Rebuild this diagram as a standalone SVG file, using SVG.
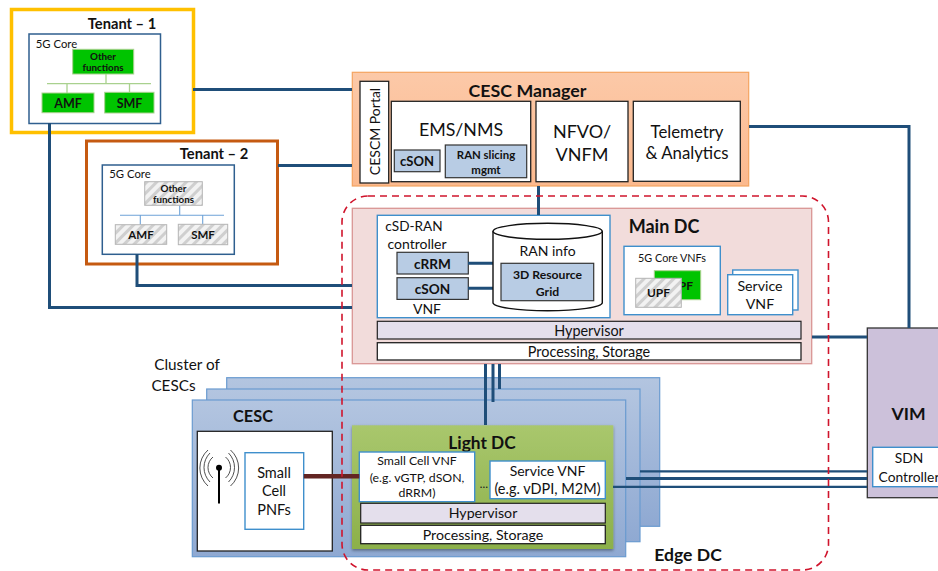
<svg xmlns="http://www.w3.org/2000/svg" width="938" height="571" viewBox="0 0 938 571">
<style>
text{font-family:"Lato","Liberation Sans",sans-serif;fill:#111;text-anchor:middle}
.b{font-weight:700}
.w{fill:#fff;stroke:#222;stroke-width:1.3}
.bl{fill:#fff;stroke:#3f8fcc;stroke-width:1.4}
.core{fill:#fff;stroke:#2f5f8f;stroke-width:1.5}
.g{fill:#00c400;stroke:#a9d18e;stroke-width:1}
.h{fill:url(#hatch);stroke:#b5b5b5;stroke-width:1}
.s{fill:#b8cce4;stroke:#333;stroke-width:1.2}
.hv{fill:#e4dfec;stroke:#222;stroke-width:1.2}
.cn{fill:none;stroke:#1f4e79;stroke-width:3}
.cesc{fill:url(#blue);stroke:#6a9bd0;stroke-width:1.2}
</style>
<defs>
<pattern id="hatch" width="7" height="7" patternUnits="userSpaceOnUse" patternTransform="rotate(45)">
<rect width="7" height="7" fill="#f2f2f2"/><rect width="3" height="7" fill="#cfcfcf"/>
</pattern>
<linearGradient id="blue" x1="0" y1="0" x2="0" y2="1"><stop offset="0" stop-color="#b3c5e0"/><stop offset="1" stop-color="#8fa9d2"/></linearGradient>
<linearGradient id="green" x1="0" y1="0" x2="0" y2="1"><stop offset="0" stop-color="#a9c76d"/><stop offset="1" stop-color="#8cb04a"/></linearGradient>
<linearGradient id="orange" x1="0" y1="0" x2="0" y2="1"><stop offset="0" stop-color="#fcc9a8"/><stop offset="1" stop-color="#fbb98e"/></linearGradient>
<filter id="shadow" x="-5%" y="-5%" width="110%" height="110%"><feDropShadow dx="0" dy="1.5" stdDeviation="1.5" flood-color="#000" flood-opacity="0.4"/></filter>
</defs>

<g id="tenant1">
<rect x="11.5" y="9.5" width="182" height="123" fill="#fff" stroke="#ffc000" stroke-width="3.5"/>
<text class="b" x="122" y="28.5" font-size="14.7">Tenant – 1</text>
<rect class="core" x="29" y="34" width="131.5" height="89.5"/>
<text x="56.5" y="47.5" font-size="11.3">5G Core</text>
<path fill="none" stroke="#a9d18e" stroke-width="1.3" d="M47 83.7H151M106 74V83.7M67 83.7V93M129.5 83.7V92"/>
<rect class="g" x="72.7" y="49.3" width="61" height="24.7"/>
<text class="b" x="103" y="59.5" font-size="9.8">Other</text>
<text class="b" x="103" y="71" font-size="9.8">functions</text>
<rect class="g" x="42" y="93" width="52" height="19.7"/>
<text class="b" x="68" y="108" font-size="12.5">AMF</text>
<rect class="g" x="104.7" y="92.3" width="49.3" height="20.7"/>
<text class="b" x="129.5" y="108" font-size="12.5">SMF</text>
</g>

<g id="tenant2">
<rect x="86.5" y="141" width="191" height="123" fill="#fff" stroke="#c55a11" stroke-width="3"/>
<text class="b" x="214" y="158.5" font-size="14.7">Tenant – 2</text>
<rect class="core" x="102.3" y="165" width="132" height="89.3"/>
<text x="130" y="177.5" font-size="11.3">5G Core</text>
<path fill="none" stroke="#6fa3d8" stroke-width="1.1" d="M120 215.3H224M179.7 205.3V215.3M140.3 215.3V224.7M202.7 215.3V224.3"/>
<rect class="h" x="144.7" y="181.7" width="57.6" height="23.6"/>
<text class="b" x="173.5" y="191.5" font-size="9.8">Other</text>
<text class="b" x="173.5" y="203" font-size="9.8">functions</text>
<rect class="h" x="115.3" y="224.7" width="51.4" height="19.6"/>
<text class="b" x="141" y="239" font-size="11.5">AMF</text>
<rect class="h" x="178.3" y="224.3" width="49.4" height="20.4"/>
<text class="b" x="203" y="239" font-size="11.5">SMF</text>
</g>

<g id="cesc-manager">
<rect x="352.3" y="72.3" width="396.4" height="113.7" fill="url(#orange)" stroke="#f4a460" stroke-width="1.2"/>
<text class="b" x="527.5" y="97" font-size="17.8">CESC Manager</text>
<rect class="w" x="360" y="81.3" width="28.7" height="101.7"/>
<text transform="translate(379.5 131.5) rotate(-90)" font-size="14">CESCM Portal</text>
<rect class="w" x="391.3" y="101.3" width="139.4" height="80.4"/>
<text x="461" y="136" font-size="17.8">EMS/NMS</text>
<rect class="s" x="394.3" y="150" width="45.7" height="21.7"/>
<text class="b" x="417" y="166" font-size="13">cSON</text>
<rect class="s" x="445.3" y="145" width="81.4" height="32.7"/>
<text class="b" x="486" y="158.5" font-size="11.4">RAN slicing</text>
<text class="b" x="486" y="174" font-size="11.4">mgmt</text>
<rect class="w" x="536" y="101.3" width="92" height="80.4"/>
<text x="582" y="138" font-size="18">NFVO/</text>
<text x="582" y="161" font-size="18">VNFM</text>
<rect class="w" x="633.3" y="101.3" width="107" height="80"/>
<text x="687" y="138" font-size="16.8">Telemetry</text>
<text x="687" y="158.5" font-size="16.8">&amp; Analytics</text>
</g>

<g id="main-dc">
<rect x="352.3" y="208.3" width="459.4" height="155.4" fill="#f2dcdb" stroke="#d99694" stroke-width="1.3"/>
<text class="b" x="664" y="232.5" font-size="18">Main DC</text>
<rect class="bl" x="377.3" y="215.3" width="232.7" height="102.4"/>
<text x="414" y="231" font-size="13.6">cSD-RAN</text>
<text x="417" y="249" font-size="14">controller</text>
<rect class="s" x="397" y="252.3" width="71.3" height="21.7"/>
<text class="b" x="432.5" y="269" font-size="13.6">cRRM</text>
<rect class="s" x="397" y="277.7" width="71.3" height="21.7"/>
<text class="b" x="432.5" y="294" font-size="13.6">cSON</text>
<text x="427" y="314" font-size="14">VNF</text>
<path class="cn" d="M468 263.3H493M468 288.3H493"/>
<path fill="#fff" stroke="#111" stroke-width="1.4" d="M493 231.3A54.6 8 0 0 1 602.3 231.3V302.7A54.6 8 0 0 1 493 302.7Z"/>
<path fill="none" stroke="#111" stroke-width="1.4" d="M493 231.3A54.6 8 0 0 0 602.3 231.3"/>
<text x="547.5" y="256" font-size="14">RAN info</text>
<rect class="s" x="501" y="263.3" width="92.7" height="37.4"/>
<text class="b" x="547.5" y="278.5" font-size="12.2">3D Resource</text>
<text class="b" x="547.5" y="295.5" font-size="12.2">Grid</text>
<rect class="bl" x="624" y="246.3" width="96.3" height="68.4"/>
<text x="672" y="262" font-size="10.8">5G Core VNFs</text>
<rect x="654.3" y="270.7" width="46.4" height="29" fill="#00c400" stroke="#a9d18e"/>
<text class="b" x="681.5" y="290" font-size="12">UPF</text>
<rect class="h" x="635.7" y="278.3" width="45.6" height="29"/>
<text class="b" x="658.5" y="297" font-size="12">UPF</text>
<rect class="bl" x="732.7" y="270" width="65.3" height="40"/>
<rect class="bl" x="727.7" y="274.7" width="65" height="40"/>
<text x="760" y="291" font-size="14.2">Service</text>
<text x="760" y="309" font-size="14.2">VNF</text>
<rect class="hv" x="377.3" y="321.3" width="423.7" height="17.7"/>
<text x="589" y="335.5" font-size="14.4">Hypervisor</text>
<rect class="w" x="377.3" y="342.7" width="423.7" height="17.3"/>
<text x="589" y="356.5" font-size="14.4">Processing, Storage</text>
</g>

<g id="cesc-cluster">
<rect class="cesc" x="226.7" y="377.7" width="433" height="148.6"/>
<rect class="cesc" x="206.7" y="389" width="433.3" height="152.7"/>
<rect class="cesc" x="192.3" y="400" width="433.4" height="156.7"/>
<text x="187" y="370" font-size="15.3">Cluster of</text>
<text x="173.5" y="391" font-size="15.3">CESCs</text>
<text class="b" x="253" y="421.5" font-size="16.3">CESC</text>
</g>

<g id="small-cell">
<rect class="w" x="197.3" y="431.3" width="135" height="119.7"/>
<g fill="none" stroke="#222" stroke-width="0.8">
<path d="M208 450A24 24 0 0 0 208 486M210 453A20.5 20.5 0 0 0 210 482M213 457A13.5 13.5 0 0 0 213 478"/>
<path d="M230.5 450A24 24 0 0 1 230.5 486M228.5 453A20.5 20.5 0 0 1 228.5 482M225.5 457A13.5 13.5 0 0 1 225.5 478"/>
</g>
<path d="M219 467.7V503.5" stroke="#000" stroke-width="2"/>
<circle cx="219" cy="467.7" r="3"/>
<rect class="bl" x="245" y="452.7" width="58.7" height="76.6"/>
<text x="274" y="478" font-size="14.5">Small</text>
<text x="274" y="496" font-size="14.5">Cell</text>
<text x="274" y="515" font-size="14.5">PNFs</text>
</g>

<g id="light-dc">
<rect x="352" y="425.3" width="261.3" height="123.7" fill="url(#green)" filter="url(#shadow)"/>
<text class="b" x="482" y="448.5" font-size="17.3">Light DC</text>
<rect class="bl" x="359.3" y="452" width="115.4" height="49.7"/>
<text x="417" y="465" font-size="12.3">Small Cell VNF</text>
<text x="417" y="482" font-size="12.3">(e.g. vGTP, dSON,</text>
<text x="417" y="497" font-size="12.3">dRRM)</text>
<text x="484" y="488" font-size="11">…</text>
<rect class="bl" x="490" y="461" width="115.3" height="37.7"/>
<text x="547.5" y="476" font-size="14">Service VNF</text>
<text x="547.5" y="494" font-size="14.5">(e.g. vDPI, M2M)</text>
<rect class="hv" x="360.7" y="503.3" width="244.6" height="19.7"/>
<text x="483" y="518" font-size="14.2">Hypervisor</text>
<rect class="w" x="360.7" y="525.3" width="244.6" height="18.4"/>
<text x="483" y="540" font-size="14.2">Processing, Storage</text>
</g>

<g id="vim">
<rect x="867.3" y="328" width="90" height="169.7" fill="#ccc1da" stroke="#333" stroke-width="1.3"/>
<text class="b" x="908.5" y="420" font-size="17.6">VIM</text>
<rect class="bl" x="872.7" y="447.3" width="80" height="39.4"/>
<text x="909" y="463" font-size="13.8">SDN</text>
<text x="909" y="482" font-size="13.8">Controller</text>
</g>

<g id="connectors">
<path class="cn" d="M193 89.5H352"/>
<path class="cn" d="M278 165.5H352"/>
<path class="cn" d="M49.5 123V307.5H352"/>
<path class="cn" d="M137 254V285.5H352"/>
<path class="cn" d="M538.5 186V215"/>
<path class="cn" d="M749 126.5H909V328"/>
<path class="cn" d="M812 337H867"/>
<path class="cn" d="M485.5 364V425"/>
<path class="cn" d="M493 364V402"/>
<path class="cn" d="M499.5 364V389"/>
<path class="cn" style="stroke-width:2.2" d="M640 471.3H867"/>
<path class="cn" style="stroke-width:3" d="M626 478.5H867"/>
<path class="cn" style="stroke-width:2.2" d="M613 486.8H867"/>
<path d="M303.7 476.3H359.3" fill="none" stroke="#632523" stroke-width="4.5"/>
</g>

<g id="edge-dc">
<rect x="342" y="196" width="486.5" height="374" rx="26" fill="none" stroke="#d0142c" stroke-width="1.6" stroke-dasharray="7 5"/>
<text class="b" x="688" y="561" font-size="17.6">Edge DC</text>
</g>
</svg>
